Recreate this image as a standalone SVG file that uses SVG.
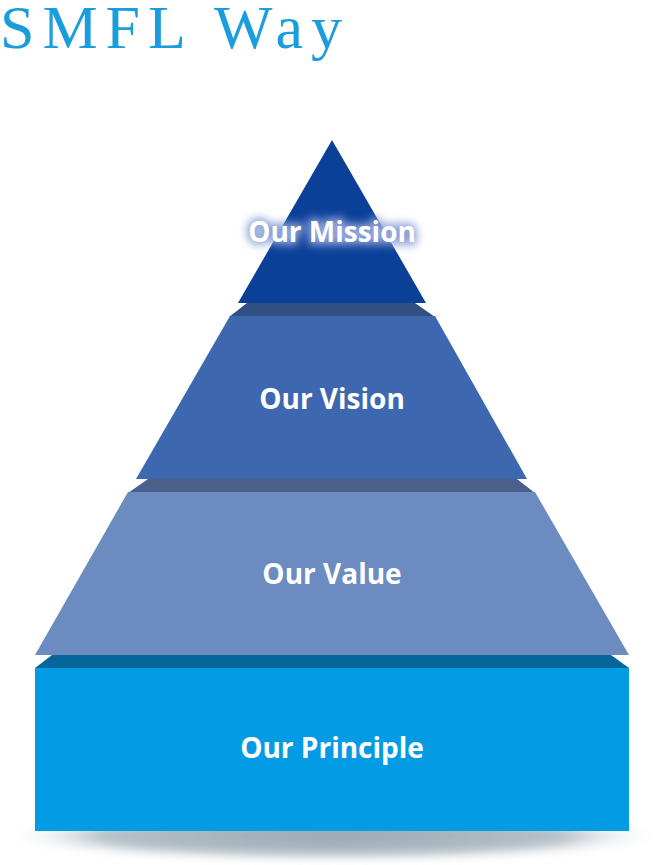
<svg xmlns="http://www.w3.org/2000/svg" width="668" height="865" viewBox="0 0 668 865">
<style>
.lbl{font-family:"Open Sans","Noto Sans",sans-serif;font-weight:700;font-size:28px;fill:#ffffff;text-anchor:middle}
.title{font-family:"Liberation Serif","Times New Roman",serif;font-size:62px;fill:#1a9ddc;letter-spacing:8px}
</style>
<defs>
<radialGradient id="shadowGrad" cx="0.5" cy="0.5" r="0.5">
<stop offset="0" stop-color="#98a7b1"/>
<stop offset="0.7" stop-color="#b6c1c9"/>
<stop offset="1" stop-color="#ffffff" stop-opacity="0"/>
</radialGradient>
<filter id="blur" x="-10%" y="-50%" width="120%" height="200%"><feGaussianBlur stdDeviation="4"/></filter>
<filter id="glow" x="-20%" y="-60%" width="140%" height="220%"><feGaussianBlur stdDeviation="4"/></filter>
</defs>
<text class="title" x="0" y="48">SMFL Way</text>
<g id="shadow">
<ellipse cx="333" cy="836" rx="333" ry="26" fill="url(#shadowGrad)" filter="url(#blur)"/>
</g>
<g id="connectors"></g>
<g id="principle">
<polygon points="52,655 611,655 629,668 35,668" fill="#06669a"/>
<rect x="35" y="668" width="594" height="163" fill="#049be5"/>
<text class="lbl" x="332" y="758">Our Principle</text>
</g>
<g id="value">
<polygon points="148,479 517,479 535,493 128,493" fill="#4a5f89"/>
<polygon points="128,492 535,492 629,655 35,655" fill="#6c8bc1"/>
<text class="lbl" x="332" y="584">Our Value</text>
</g>
<g id="vision">
<polygon points="247,303 415,303 435,317 229,317" fill="#314f80"/>
<polygon points="230,316 435,316 527,479 136,479" fill="#3d67af"/>
<text class="lbl" x="332" y="409">Our Vision</text>
</g>
<g id="mission">
<polygon points="332,140 426,303 238,303" fill="#0b4098"/>
<text class="lbl" x="332" y="242" style="fill:#8ea3d8" filter="url(#glow)" stroke="#8ea3d8" stroke-width="6">Our Mission</text>
<text class="lbl" x="332" y="242">Our Mission</text>
</g>
</svg>
